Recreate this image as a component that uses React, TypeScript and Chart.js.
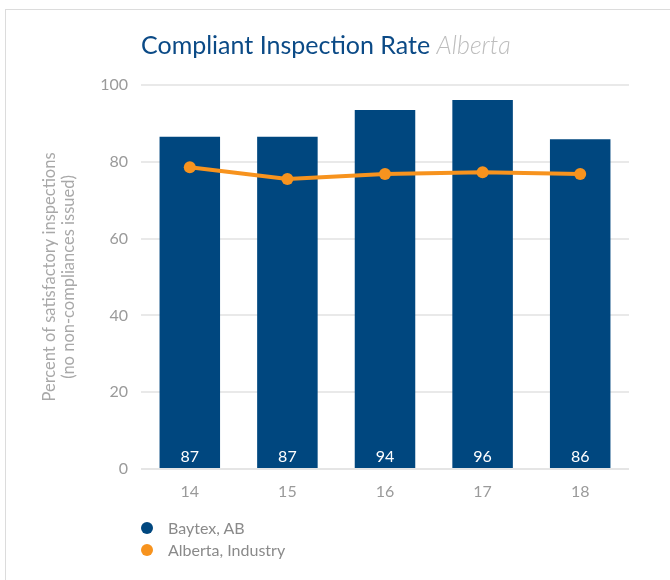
import React, { useEffect, useRef } from "react";
import { Chart, registerables } from "chart.js";

Chart.register(...registerables);

const categories = ["14", "15", "16", "17", "18"];
const baytexValues = [86.5, 86.5, 93.5, 96.1, 85.9];
const baytexLabels = ["87", "87", "94", "96", "86"];
const industryValues = [78.6, 75.5, 76.8, 77.3, 76.8];
const yTicks = [0, 20, 40, 60, 80, 100];
const seriesNames = ["Baytex, AB", "Alberta, Industry"];
const yTitle = ["Percent of satisfactory inspections", "(no non-compliances issued)"];

const BLUE = "#00477f";
const ORANGE = "#f7931e";
const FONT = "Lato, 'DejaVu Sans', sans-serif";

export default function App() {
  const ref = useRef<HTMLCanvasElement | null>(null);

  useEffect(() => {
    document.body.style.overflow = "hidden";
    const canvas = ref.current;
    if (!canvas) return;
    const labelPlugin = {
      id: "barLabels",
      afterDatasetsDraw(chart: any) {
        const ctx = chart.ctx;
        const y = chart.scales.y;
        const area = chart.chartArea;
        const y0 = y.getPixelForValue(0);
        ctx.save();
        ctx.strokeStyle = "rgba(225,225,225,0.45)";
        ctx.lineWidth = 2;
        ctx.beginPath();
        ctx.moveTo(area.left, y0);
        ctx.lineTo(area.right, y0);
        ctx.stroke();
        const meta = chart.getDatasetMeta(0);
        ctx.fillStyle = "#ffffff";
        ctx.font = `16px ${FONT}`;
        ctx.textAlign = "center";
        ctx.textBaseline = "middle";
        meta.data.forEach((bar: any, i: number) => {
          ctx.fillText(baytexLabels[i], bar.x, y0 - 12);
        });
        ctx.restore();
      },
    };
    const chart = new Chart(canvas, {
      type: "bar",
      data: {
        labels: categories,
        datasets: [
          {
            type: "bar",
            label: seriesNames[0],
            data: baytexValues,
            backgroundColor: BLUE,
            barPercentage: 0.62,
            categoryPercentage: 1,
            order: 2,
          } as any,
          {
            type: "line",
            label: seriesNames[1],
            data: industryValues,
            borderColor: ORANGE,
            backgroundColor: ORANGE,
            borderWidth: 4,
            pointRadius: 6,
            pointBackgroundColor: ORANGE,
            pointBorderWidth: 0,
            tension: 0,
            order: 1,
          } as any,
        ],
      },
      options: {
        responsive: false,
        animation: false,
        devicePixelRatio: 1,
        layout: { padding: { left: 37, top: 85, right: 41, bottom: 0 } },
        plugins: {
          legend: { display: false },
          tooltip: { enabled: false },
        },
        scales: {
          x: {
            grid: { display: false, drawTicks: false },
            border: { display: false },
            ticks: { color: "#9a9a9a", font: { family: FONT, size: 16 }, padding: 13 },
            afterFit(scale: any) {
              scale.height = 31;
            },
          },
          y: {
            min: 0,
            max: 100,
            afterBuildTicks(scale: any) {
              scale.ticks = yTicks.map((v) => ({ value: v }));
            },
            grid: { color: "#e9e9e9", lineWidth: 2, drawTicks: false },
            border: { display: false },
            ticks: { color: "#9a9a9a", font: { family: FONT, size: 16 }, padding: 13 },
            title: {
              display: true,
              text: yTitle,
              color: "#a8a8a8",
              font: { family: FONT, size: 16.5, lineHeight: 1.1 },
              padding: { top: 4, bottom: 4 },
            },
            afterFit(scale: any) {
              scale.width = 141 - 37;
            },
          },
        },
      },
      plugins: [labelPlugin],
    } as any);
    return () => chart.destroy();
  }, []);

  const legendColors = [BLUE, ORANGE];

  return (
    <div>
      <div
        style={{
          position: "fixed",
          left: 5,
          top: 9,
          width: 720,
          height: 640,
          border: "1px solid #dcdcdc",
          boxSizing: "border-box",
        }}
      />
      <canvas
        ref={ref}
        width={670}
        height={500}
        style={{ position: "fixed", left: 0, top: 0, width: 670, height: 500 }}
      />
      <div
        style={{
          position: "fixed",
          left: 141,
          top: 29,
          height: 30,
          lineHeight: "30px",
          fontFamily: FONT,
          fontSize: 25,
          whiteSpace: "nowrap",
        }}
      >
        <span style={{ color: "#0b4a86" }}>Compliant Inspection Rate</span>{" "}
        <span style={{ color: "#bdbdbd", fontStyle: "italic", fontWeight: 300 }}>Alberta</span>
      </div>
      {seriesNames.map((name, i) => (
        <div
          key={name}
          style={{
            position: "fixed",
            left: 141,
            top: 518 + i * 22,
            height: 20,
            lineHeight: "20px",
            fontFamily: FONT,
            fontSize: 16,
            color: "#8a8a8a",
            display: "flex",
            alignItems: "center",
            whiteSpace: "nowrap",
          }}
        >
          <span
            style={{
              display: "inline-block",
              width: 12,
              height: 12,
              borderRadius: 6,
              background: legendColors[i],
              marginRight: 15,
            }}
          />
          {name}
        </div>
      ))}
    </div>
  );
}
